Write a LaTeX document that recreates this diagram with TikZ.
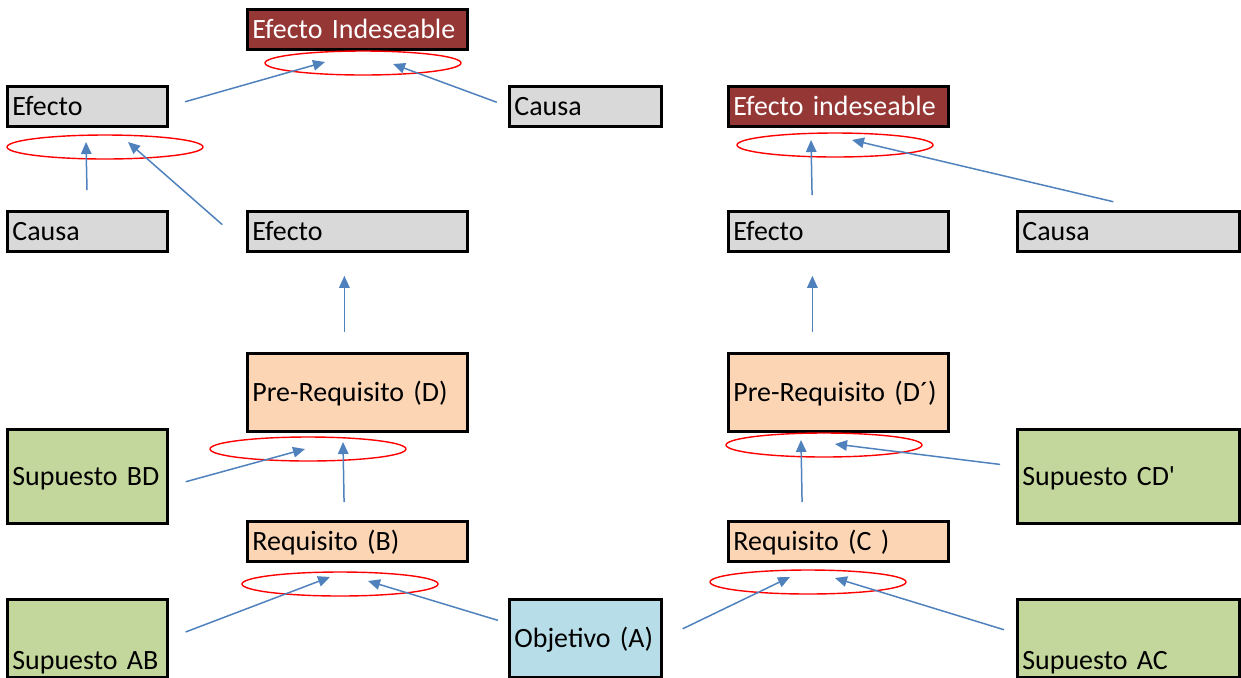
\documentclass[tikz,border=0pt]{standalone}
\usepackage{fontspec}
\setmainfont{Carlito}
\usetikzlibrary{arrows.meta,shapes.geometric}
\definecolor{cgrey}{HTML}{D9D9D9}
\definecolor{cdark}{HTML}{953735}
\definecolor{cpeach}{HTML}{FCD5B5}
\definecolor{cgreen}{HTML}{C3D69B}
\definecolor{cblue}{HTML}{B7DEE8}
\definecolor{carrow}{HTML}{4F81BD}
\begin{document}
\begin{tikzpicture}[x=0.02cm,y=-0.02cm]
  \tikzstyle{box}=[draw,line width=1.6pt,anchor=north west,inner xsep=0.1cm,inner ysep=0pt,align=left,minimum height=0.8cm,text height=10.2pt,text depth=0pt,font=\fontsize{15.9}{19}\selectfont]
  \tikzstyle{low}=[minimum height=1.56cm,text height=1.24cm]
  \tikzstyle{oval}=[draw=red,line width=0.8pt,ellipse,minimum width=3.92cm,minimum height=0.48cm,inner sep=0pt]
  \tikzstyle{arr}=[draw=carrow,line width=0.85pt,-{Triangle[length=0.24cm,width=0.21cm]}]
  \useasboundingbox (0,0) rectangle (1241,677);
  \node [box,fill=cdark,text=white,text width=4.2cm] (ei1) at (246,8) {Efecto Indeseable};
  \node [box,fill=cgrey,text width=3cm] (ef1) at (6,85) {Efecto};
  \node [box,fill=cgrey,text width=2.84cm] (ca1) at (508,85) {Causa};
  \node [box,fill=cdark,text=white,text width=4.2cm] (ei2) at (727,85) {Efecto indeseable};
  \node [box,fill=cgrey,text width=3cm] (ca2) at (6,210) {Causa};
  \node [box,fill=cgrey,text width=4.2cm] (ef2) at (246,210) {Efecto};
  \node [box,fill=cgrey,text width=4.2cm] (ef3) at (727,210) {Efecto};
  \node [box,fill=cgrey,text width=4.24cm] (ca3) at (1016,210) {Causa};
  \node [box,fill=cpeach,text width=4.2cm,minimum height=1.56cm] (prD) at (246,352) {Pre-Requisito (D)};
  \node [box,fill=cpeach,text width=4.2cm,minimum height=1.56cm] (prD2) at (727,352) {Pre-Requisito (D´)};
  \node [box,fill=cgreen,text width=3cm,minimum height=1.88cm] (suBD) at (6,428) {Supuesto BD};
  \node [box,fill=cgreen,text width=4.24cm,minimum height=1.88cm] (suCD) at (1016,428) {Supuesto CD\textquotesingle};
  \node [box,fill=cpeach,text width=4.2cm] (reqB) at (246,520) {Requisito (B)};
  \node [box,fill=cpeach,text width=4.2cm] (reqC) at (727,520) {Requisito (C )};
  \node [box,low,fill=cgreen,text width=3cm] (suAB) at (6,598) {Supuesto AB};
  \node [box,fill=cblue,text width=2.84cm,minimum height=1.56cm] (obj) at (508,598) {Objetivo (A)};
  \node [box,low,fill=cgreen,text width=4.24cm] (suAC) at (1016,598) {Supuesto AC};
  \node [oval] (o1) at (363,63) {};
  \node [oval] (o2) at (105,147) {};
  \node [oval] (o3) at (835,145) {};
  \node [oval] (o4) at (308,449) {};
  \node [oval] (o5) at (824,445) {};
  \node [oval] (o6) at (340,584) {};
  \node [oval] (o7) at (808,582) {};
  \coordinate (t1a) at (325,62);  \coordinate (t1b) at (393,64);
  \coordinate (t2a) at (86,142);  \coordinate (t2b) at (128,142);
  \coordinate (t3a) at (811,140); \coordinate (t3b) at (852,140);
  \coordinate (t4a) at (305,449); \coordinate (t4b) at (343,442);
  \coordinate (t5a) at (835,444); \coordinate (t5b) at (801,440);
  \coordinate (t6a) at (330,577); \coordinate (t6b) at (368,581);
  \coordinate (t7a) at (790,577); \coordinate (t7b) at (835,578);
  \draw [arr,shorten <=0.34cm] (ef1.east) -- (t1a);
  \draw [arr,shorten <=0.24cm] (ca1.west) -- (t1b);
  \draw [arr,shorten <=0.4cm] (ca2.north) -- (t2a);
  \draw [arr,shorten <=0.63cm] ([yshift=-0.28cm]ef2.west) -- (t2b);
  \draw [arr,shorten <=0.3cm] ([xshift=-0.52cm]ef3.north) -- (t3a);
  \draw [arr,shorten <=0.72cm] ([xshift=0.4cm]ca3.north) -- (t3b);
  \draw [arr,shorten <=0.4cm,shorten >=0.46cm] ([xshift=-0.26cm]prD.north) -- ([xshift=-0.26cm]ef2.south);
  \draw [arr,shorten <=0.4cm,shorten >=0.46cm] ([xshift=-0.52cm]prD2.north) -- ([xshift=-0.52cm]ef3.south);
  \draw [arr,shorten <=0.35cm] ([yshift=-0.2cm]suBD.east) -- (t4a);
  \draw [arr,shorten <=0.36cm] ([xshift=-0.26cm]reqB.north) -- (t4b);
  \draw [arr,shorten <=0.32cm] ([yshift=0.2cm]suCD.west) -- (t5a);
  \draw [arr,shorten <=0.36cm] ([xshift=-0.72cm]reqC.north) -- (t5b);
  \draw [arr,shorten <=0.36cm] (suAB.east) -- (t6a);
  \draw [arr,shorten <=0.21cm] ([yshift=0.3cm]obj.west) -- (t6b);
  \draw [arr,shorten <=0.44cm] (obj.east) -- (t7a);
  \draw [arr,shorten <=0.25cm] ([yshift=0.1cm]suAC.west) -- (t7b);
\end{tikzpicture}
\end{document}
